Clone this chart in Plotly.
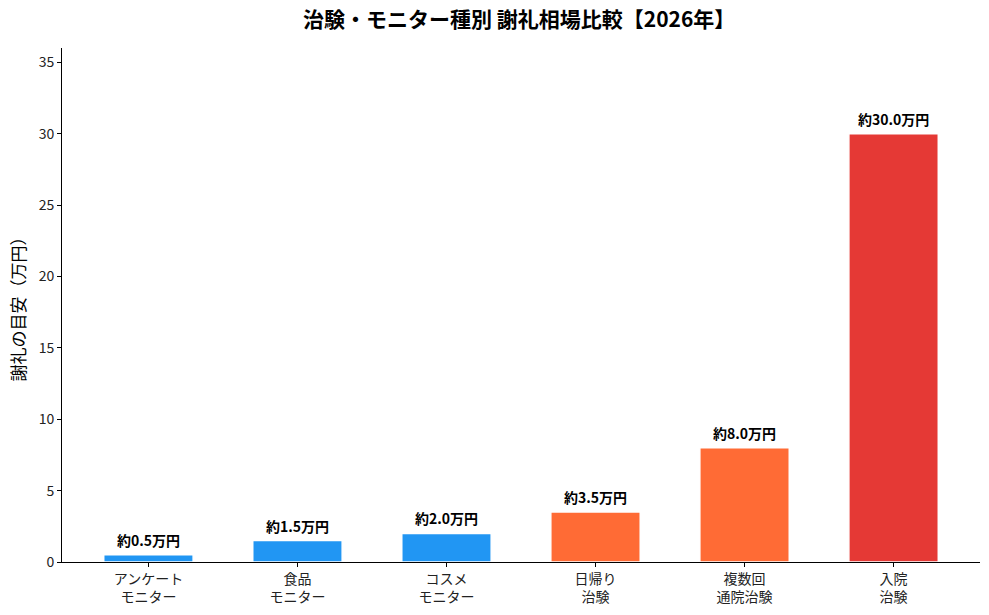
import plotly.graph_objects as go

categories = ["アンケート<br>モニター", "食品<br>モニター", "コスメ<br>モニター", "日帰り<br>治験", "複数回<br>通院治験", "入院<br>治験"]
values = [0.5, 1.5, 2.0, 3.5, 8.0, 30.0]
labels = ["約0.5万円", "約1.5万円", "約2.0万円", "約3.5万円", "約8.0万円", "約30.0万円"]
colors = ["#2196F3", "#2196F3", "#2196F3", "#FF6B35", "#FF6B35", "#E53935"]
yticks = [0, 5, 10, 15, 20, 25, 30, 35]

FONT = "Noto Sans CJK JP"

fig = go.Figure()
fig.add_trace(go.Bar(
    x=list(range(len(categories))), y=values,
    marker=dict(color=colors, line=dict(color="white", width=1.5)),
    width=0.6, showlegend=False,
))
for i, (v, t) in enumerate(zip(values, labels)):
    fig.add_annotation(x=i, y=v, text=f"<b>{t}</b>", showarrow=False,
                       yanchor="bottom", yshift=3,
                       font=dict(family=FONT, size=14, color="black"))

fig.update_layout(
    width=989, height=615,
    margin=dict(l=62, r=9, t=48, b=53),
    paper_bgcolor="white", plot_bgcolor="white",
    font=dict(family=FONT, color="black"),
    title=dict(text="<b>治験・モニター種別 謝礼相場比較【2026年】</b>",
               x=0.525, xanchor="center", y=0.968, yanchor="middle",
               font=dict(family=FONT, size=21, color="black")),
    bargap=0.4,
)
fig.update_xaxes(
    tickmode="array", tickvals=list(range(len(categories))), ticktext=categories,
    range=[-0.58, 5.58], showline=True, linecolor="black", linewidth=1,
    ticks="outside", ticklen=4, tickcolor="black", showgrid=False,
    tickfont=dict(family=FONT, size=14, color="#222"),
)
fig.update_yaxes(
    range=[0, 36], tickvals=yticks, showline=True, linecolor="black", linewidth=1,
    ticks="outside", ticklen=4, tickcolor="black", showgrid=False, zeroline=False,
    tickfont=dict(family=FONT, size=14, color="#222"),
    title=dict(text="謝礼の目安（万円）", font=dict(family=FONT, size=17, color="black"), standoff=8),
)

fig.write_html("out.html")
